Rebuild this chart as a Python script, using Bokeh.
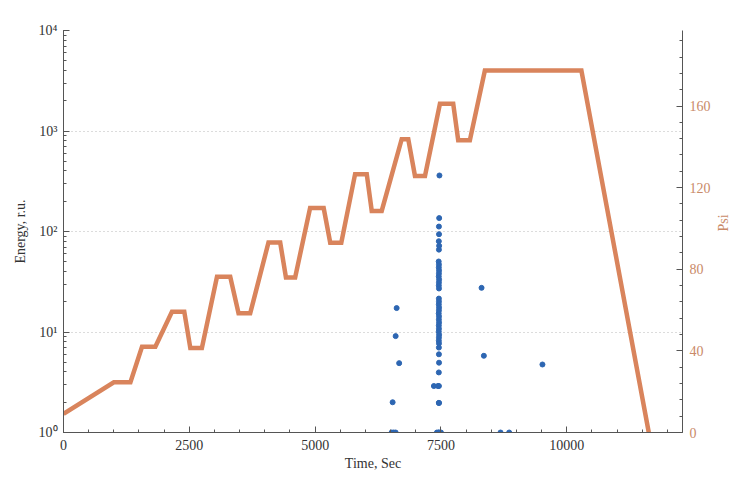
import math
from bokeh.plotting import figure
from bokeh.models import Range1d, LinearAxis, FixedTicker, LogTicker, LinearScale
from bokeh.embed import file_html
from bokeh.resources import INLINE

# Pressure profile (Psi) vs time (s)
time_line = [0, 1000, 1330, 1560, 1825, 2155, 2400, 2520, 2750, 3050, 3313, 3478,
             3710, 4073, 4306, 4420, 4603, 4900, 5170, 5300, 5520, 5794, 6026, 6125,
             6323, 6720, 6851, 6984, 7183, 7480, 7744, 7843, 8075, 8373, 10291, 11630]
psi_line = [9.2, 24.6, 24.6, 42.0, 42.0, 59.2, 59.2, 41.4, 41.4, 76.3, 76.3, 58.4,
            58.4, 93.1, 93.1, 76.0, 76.0, 110.0, 110.0, 93.0, 93.0, 126.6, 126.6, 108.6,
            108.6, 143.7, 143.7, 125.7, 125.7, 161.1, 161.1, 143.2, 143.2, 177.4, 177.4, 0.0]

# Acoustic emission events: time (s) and energy (r.u.)
evt_time = [7470, 7465, 7460, 7462, 7458, 7464, 7460,
            7455, 7460, 7458, 7462, 7460, 7457, 7463, 7460, 7458, 7461, 7459,
            7460, 7458, 7462, 7460, 7456, 7461, 7459, 7462, 7458, 7460, 7457, 7463,
            7460, 7458, 7461, 7459, 7460, 7462, 7458,
            7462, 7458, 7460, 7360, 7440, 7455, 7420, 7460, 7500,
            6620, 6600, 6670, 6540, 6520, 6560, 6600,
            8307, 8353, 9517, 8684, 8856]
evt_energy = [361, 136, 112, 94, 80, 72, 66,
              50.3, 46.9, 43.8, 40.9, 38.2, 35.7, 33.3, 31.1, 29.0, 27.1, 21.5,
              20.1, 18.8, 17.5, 16.4, 15.3, 14.3, 13.3, 12.4, 11.6, 10.8, 10.1, 9.4,
              8.8, 8.2, 7.7, 7.0, 6.0, 4.95, 3.96,
              1.97, 1.97, 2.9, 2.9, 2.9, 1.0, 1.0, 1.0, 1.0,
              17.3, 9.1, 4.9, 2.0, 1.0, 1.0, 1.0,
              27.5, 5.8, 4.75, 1.0, 1.0]

x_ticks = [0, 2500, 5000, 7500, 10000]
energy_ticks = [1, 10, 100, 1000, 10000]
energy_labels = ["10\u2070", "10\u00b9", "10\u00b2", "10\u00b3", "10\u2074"]
psi_ticks = [0, 40, 80, 120, 160]

FONT = "Liberation Serif"
ORANGE = "#d9845c"
LABEL_ORANGE = "#c98a68"
BLUE = "#2d66b2"
AXIS = "#555555"

p = figure(width=741, height=485, output_backend="svg", toolbar_location=None,
           y_axis_type="log", x_range=Range1d(0, 12300), y_range=Range1d(1, 10000),
           min_border_left=63, min_border_right=58, min_border_top=30,
           min_border_bottom=53)
p.extra_y_ranges = {"psi": Range1d(0, 197)}
p.extra_y_scales = {"psi": LinearScale()}
p.outline_line_color = None
p.background_fill_color = "white"

p.line(time_line, psi_line, y_range_name="psi", line_width=4.5, color=ORANGE,
       line_join="miter")
p.scatter(evt_time, evt_energy, size=5, color=BLUE)

# grid
p.xgrid.visible = False
p.ygrid.grid_line_color = "#b8b8b8"
p.ygrid.grid_line_dash = "1 3"
p.ygrid.grid_line_width = 1

# bottom axis
xa = p.xaxis[0]
xa.ticker = FixedTicker(ticks=x_ticks, minor_ticks=list(range(0, 12500, 500)))
xa.axis_label = "Time, Sec"

# left axis
ya = p.yaxis[0]
ya.ticker = LogTicker(num_minor_ticks=10)
ya.major_label_overrides = {t: s for t, s in zip(energy_ticks, energy_labels)}
ya.axis_label = "Energy, r.u."

# right axis
ra = LinearAxis(y_range_name="psi",
                ticker=FixedTicker(ticks=psi_ticks, minor_ticks=list(range(0, 200, 8))),
                axis_label="Psi")
p.add_layout(ra, "right")

for ax in [xa, ya, ra]:
    ax.axis_line_color = AXIS
    ax.major_tick_line_color = AXIS
    ax.minor_tick_line_color = AXIS
    ax.major_tick_in = 6
    ax.major_tick_out = 0
    ax.minor_tick_in = 3
    ax.minor_tick_out = 0
    ax.major_label_text_font = FONT
    ax.major_label_text_font_size = "14px"
    ax.major_label_text_color = "#333333"
    ax.axis_label_text_font = FONT
    ax.axis_label_text_font_size = "14px"
    ax.axis_label_text_font_style = "normal"
    ax.axis_label_text_color = "#333333"
    ax.major_label_standoff = 6
    ax.axis_label_standoff = 4

xa.major_label_standoff = 7
xa.axis_label_standoff = 3
ra.major_label_text_color = LABEL_ORANGE
ra.axis_label_text_color = LABEL_ORANGE
ra.axis_label_standoff = 10
ra.major_label_standoff = 7
ra.axis_label_orientation = math.pi / 2
ya.axis_label_standoff = 8

open("out.html", "w").write(file_html(p, INLINE))
